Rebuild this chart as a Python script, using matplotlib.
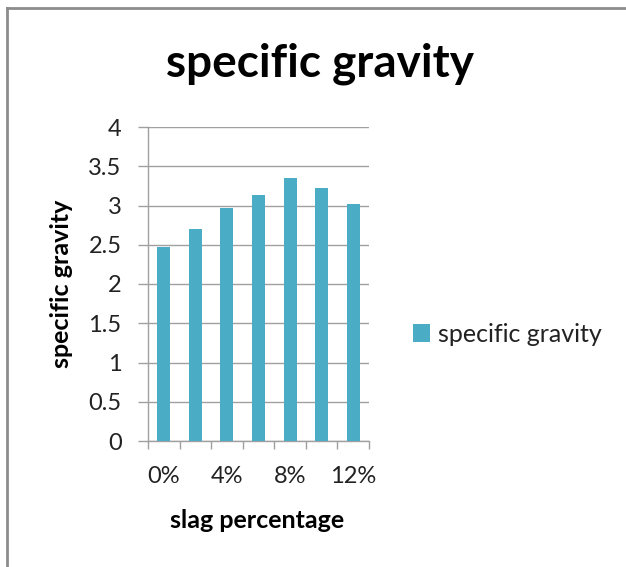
import matplotlib.pyplot as plt
from matplotlib.lines import Line2D
import numpy as np

plt.rcParams['font.family'] = ['Lato', 'DejaVu Sans']

slag = ['0%', '2%', '4%', '6%', '8%', '10%', '12%']
sg = [2.47, 2.70, 2.97, 3.13, 3.35, 3.22, 3.02]

bar_color = '#4bacc6'
axis_gray = '#a0a0a0'
text_color = '#222222'

fig = plt.figure(figsize=(6.26, 5.67), dpi=100)
ax = fig.add_axes([148 / 626, 1 - 441 / 567, 221 / 626, 314 / 567])

x = np.arange(len(slag))
ax.bar(x, sg, width=0.41, color=bar_color, label='specific gravity', zorder=3)

ax.set_xlim(-0.5, len(slag) - 0.5)
ax.set_ylim(0, 4)
ax.set_yticks(np.arange(0, 4.01, 0.5))
ax.set_yticklabels(['0', '0.5', '1', '1.5', '2', '2.5', '3', '3.5', '4'])
ax.grid(axis='y', color=axis_gray, linewidth=1, zorder=0)

# category labels every other bar, tick marks on category boundaries
ax.set_xticks(x[::2])
ax.set_xticklabels(slag[::2])
ax.set_xticks(np.arange(-0.5, len(slag), 1), minor=True)
ax.tick_params(axis='x', which='major', length=0, pad=18, labelsize=17, colors=text_color)
ax.tick_params(axis='x', which='minor', length=6, color=axis_gray, width=1)
ax.tick_params(axis='y', length=7, color=axis_gray, width=1, labelsize=17,
               labelcolor=text_color, pad=12)

for s in ['top', 'right']:
    ax.spines[s].set_visible(False)
for s in ['left', 'bottom']:
    ax.spines[s].set_color(axis_gray)
    ax.spines[s].set_linewidth(1)

ax.set_xlabel('slag percentage', fontsize=18, fontweight='bold', color='black')
ax.set_ylabel('specific gravity', fontsize=18, fontweight='bold', color='black')
ax.xaxis.set_label_coords(0.495, -0.215)
ax.yaxis.set_label_coords(-0.34, 0.5)

fig.text(320 / 626, 1 - 64 / 567, 'specific gravity', fontsize=33, fontweight='bold',
         ha='center', va='center')

ax.legend(loc='center left', bbox_to_anchor=(390 / 626, 1 - 334 / 567),
          bbox_transform=fig.transFigure, frameon=False, fontsize=18,
          handlelength=0.7, handleheight=0.7, handletextpad=0.3,
          labelcolor=text_color)

# chart area frame: only top and left edges are visible
fig.add_artist(Line2D([7 / 626, 7 / 626], [0, 1 - 8 / 567], transform=fig.transFigure,
                      color='#8c8c8c', linewidth=2))
fig.add_artist(Line2D([7 / 626, 1], [1 - 8 / 567, 1 - 8 / 567], transform=fig.transFigure,
                      color='#8c8c8c', linewidth=2))

fig.savefig('out.png', dpi=100)
